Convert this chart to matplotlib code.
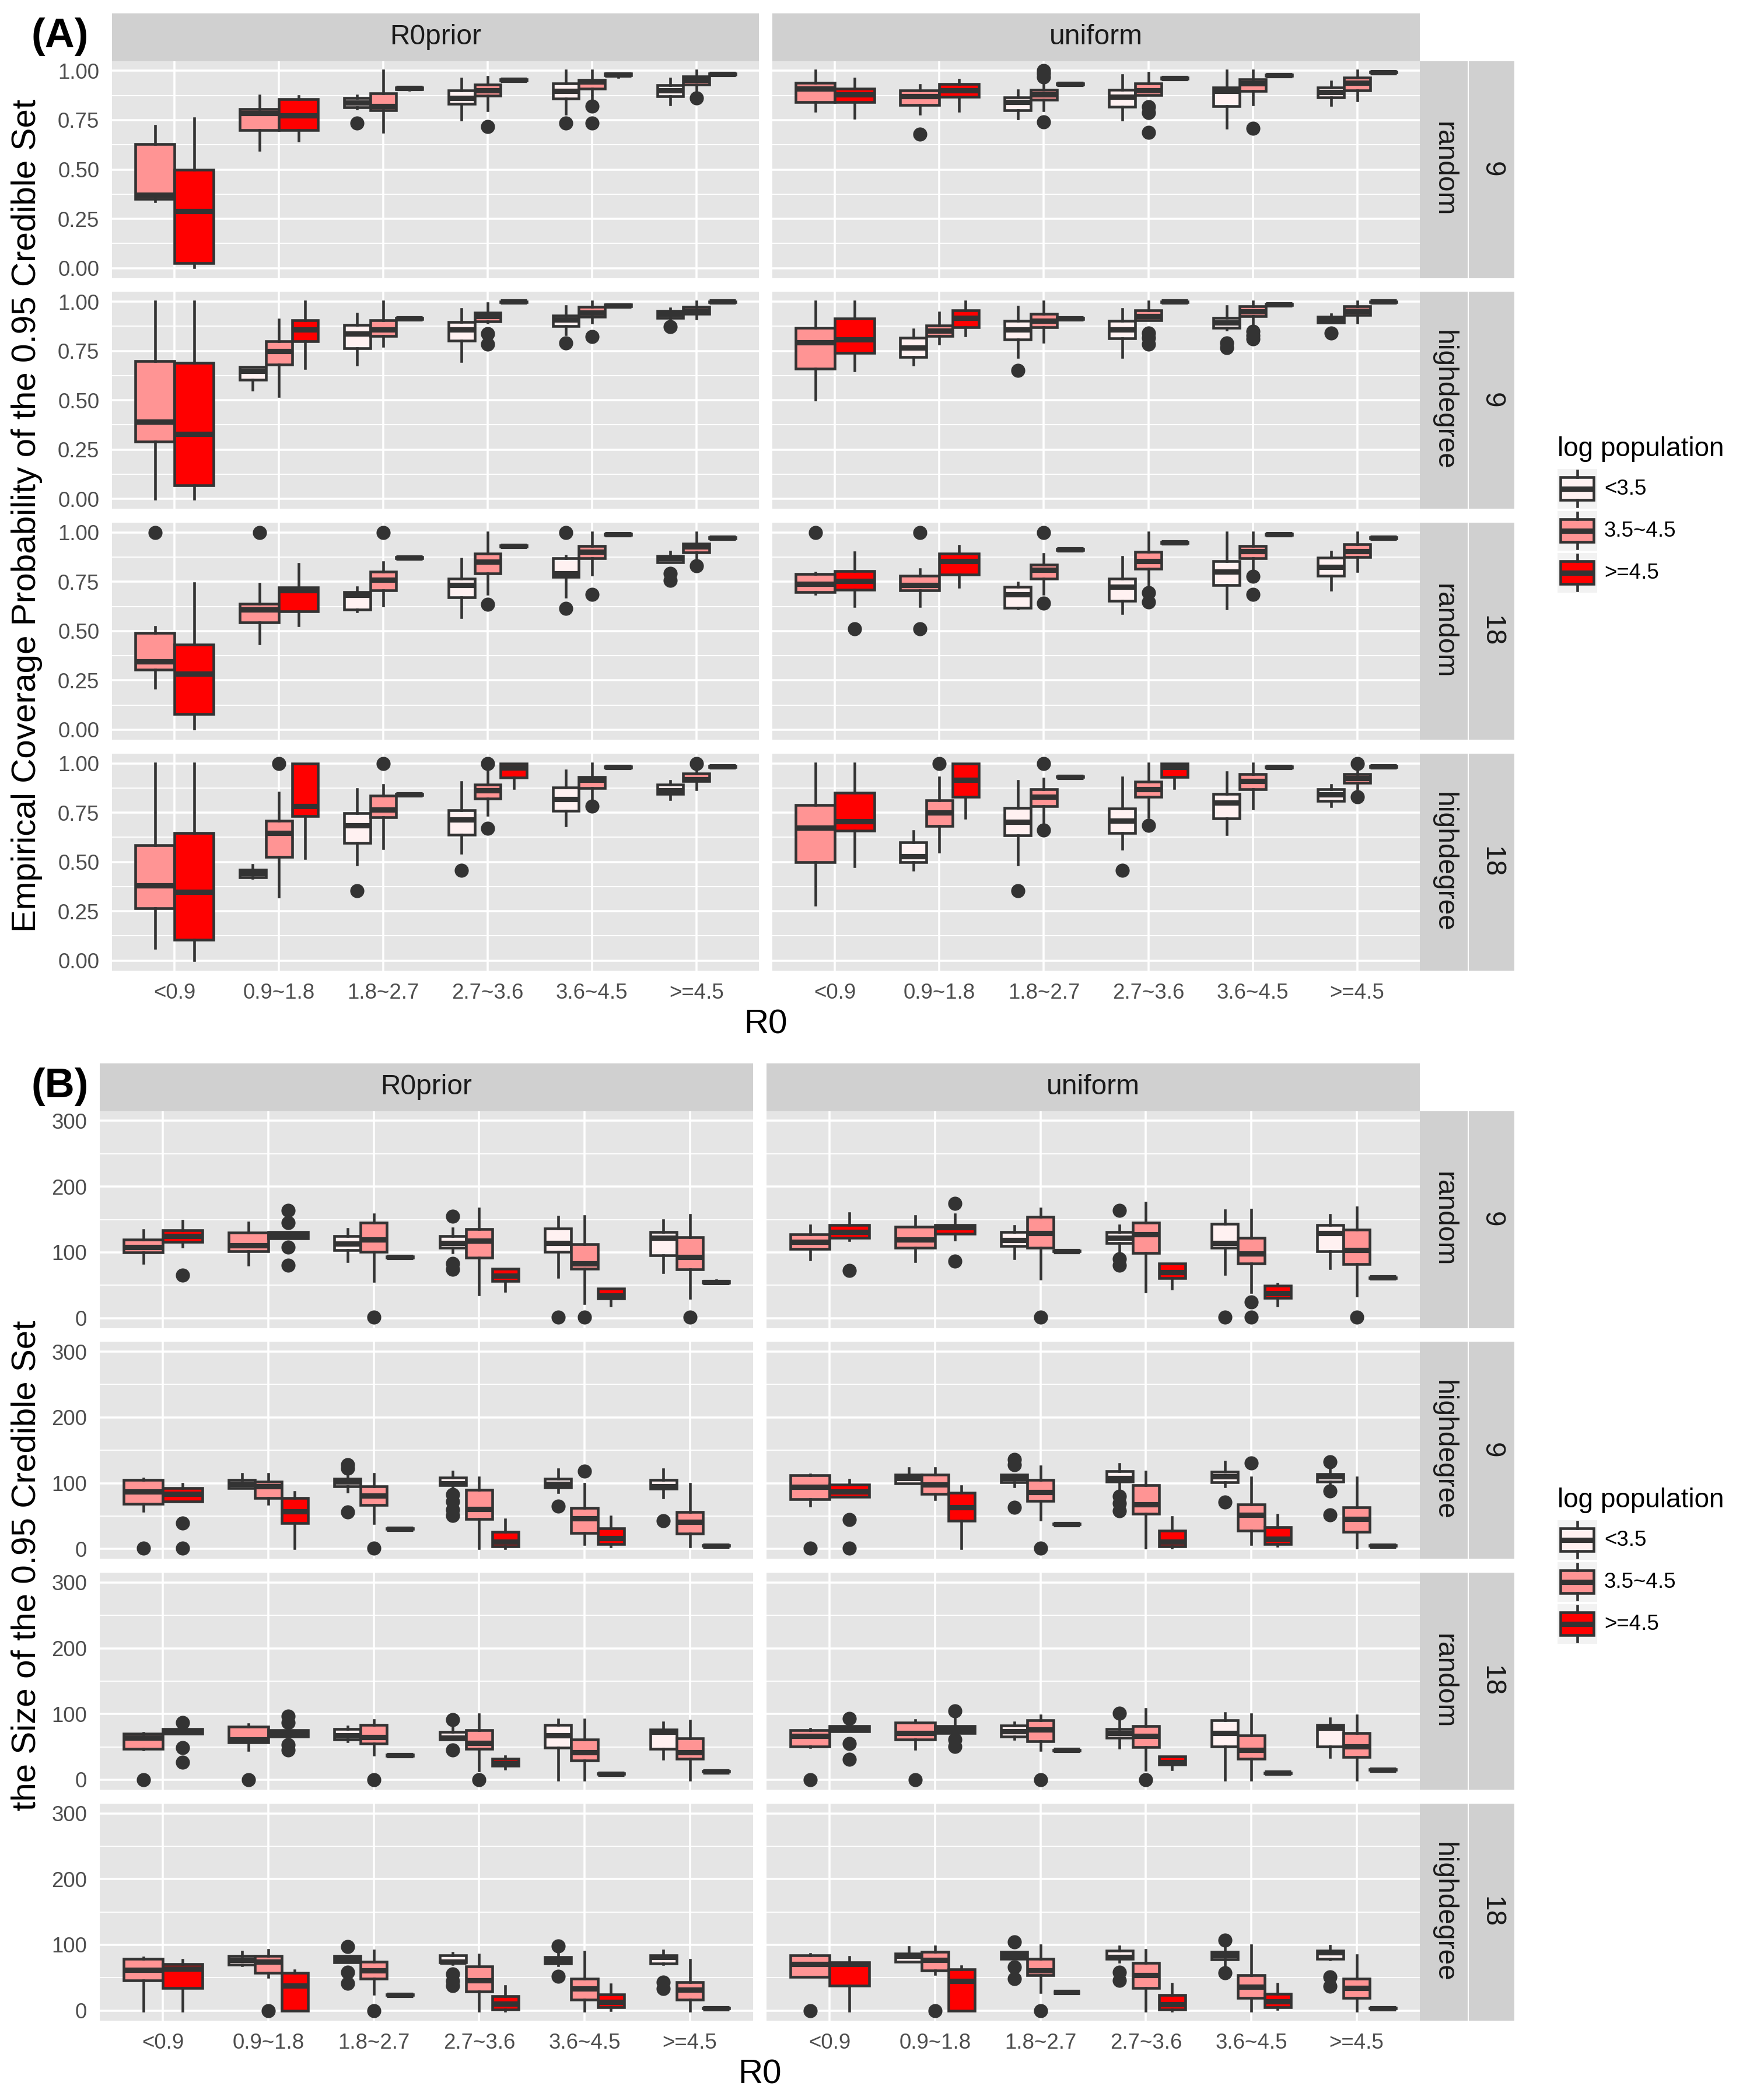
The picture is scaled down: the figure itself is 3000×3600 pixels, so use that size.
import matplotlib
matplotlib.use('Agg')
import matplotlib.pyplot as plt

plt.rcParams['font.family'] = ['Liberation Sans', 'DejaVu Sans']

# categories and groups
CATS = ['<0.9', '0.9~1.8', '1.8~2.7', '2.7~3.6', '3.6~4.5', '>=4.5']
GROUPS = ['<3.5', '3.5~4.5', '>=4.5']
GROUP_COLORS = ['#FFF1F1', '#FF9494', '#FF0000']
COLS = ['R0prior', 'uniform']
ROWS = [('random', '9'), ('highdegree', '9'), ('random', '18'), ('highdegree', '18')]

# each row: (category, group, whisker low, q1, median, q3, whisker high, outliers)
# (A) coverage probability
cov_r0prior_random_9 = [
    (0, 1, .34, .35, .37, .63, .72, []),
    (0, 2, .005, .024, .29, .50, .76, []),
    (1, 1, .60, .70, .785, .805, .875, []),
    (1, 2, .645, .70, .775, .855, .87, []),
    (2, 0, .81, .815, .838, .862, .875, [.736]),
    (2, 1, .69, .80, .82, .885, 1.0, []),
    (2, 2, .905, .908, .912, .916, .918, []),
    (3, 0, .753, .833, .861, .902, .959, []),
    (3, 1, .80, .873, .90, .929, .97, [.716]),
    (3, 2, .948, .95, .953, .956, .958, []),
    (4, 0, .783, .858, .898, .936, 1.0, [.736]),
    (4, 1, .86, .91, .944, .953, 1.0, [.82, .736]),
    (4, 2, .97, .977, .981, .985, .987, []),
    (5, 0, .831, .871, .90, .926, .961, []),
    (5, 1, .90, .929, .953, .973, 1.0, [.861]),
    (5, 2, .978, .98, .983, .986, .988, []),
]
cov_r0prior_highdegree_9 = [
    (0, 1, 0.0, .29, .39, .70, 1.0, []),
    (0, 2, 0.0, .068, .33, .69, 1.0, []),
    (1, 0, .554, .605, .647, .668, .668, []),
    (1, 1, .52, .681, .749, .80, .91, []),
    (1, 2, .664, .80, .859, .905, 1.0, []),
    (2, 0, .681, .763, .837, .881, .939, []),
    (2, 1, .775, .825, .859, .905, 1.0, []),
    (2, 2, .91, .912, .914, .917, .919, []),
    (3, 0, .698, .803, .859, .898, .961, []),
    (3, 1, .893, .90, .927, .944, .99, [.837, .783]),
    (3, 2, .995, .997, 1.0, 1.0, 1.0, []),
    (4, 0, .834, .876, .91, .929, .978, [.79]),
    (4, 1, .893, .922, .944, .973, 1.0, [.822]),
    (4, 2, .975, .978, .981, .985, .987, []),
    (5, 0, .91, .919, .939, .953, .966, [.873]),
    (5, 1, .915, .939, .953, .975, 1.0, []),
    (5, 2, .995, .997, 1.0, 1.0, 1.0, []),
]
cov_r0prior_random_18 = [
    (0, 1, .213, .306, .347, .491, .521, [1.0]),
    (0, 2, .005, .081, .283, .433, .741, []),
    (1, 1, .437, .545, .609, .64, .738, [1.0]),
    (1, 2, .53, .601, .707, .721, .839, []),
    (2, 0, .60, .609, .682, .697, .721, []),
    (2, 1, .631, .707, .761, .80, .848, [1.0]),
    (2, 2, .868, .87, .873, .876, .878, []),
    (3, 0, .572, .67, .733, .766, .865, []),
    (3, 1, .69, .792, .851, .893, 1.0, [.635]),
    (3, 2, .927, .929, .932, .935, .937, []),
    (4, 0, .673, .775, .792, .868, .882, [1.0, .614]),
    (4, 1, .787, .868, .902, .932, 1.0, [.685]),
    (4, 2, .987, .989, .992, .995, .997, []),
    (5, 0, .848, .848, .868, .882, .902, [.792, .758]),
    (5, 1, .86, .898, .927, .942, 1.0, [.831]),
    (5, 2, .968, .97, .973, .976, .978, []),
]
cov_r0prior_highdegree_18 = [
    (0, 1, .063, .266, .381, .585, 1.0, []),
    (0, 2, .003, .105, .347, .647, 1.0, []),
    (1, 0, .419, .422, .444, .461, .483, []),
    (1, 1, .325, .525, .647, .71, .851, [1.0]),
    (1, 2, .52, .732, .783, 1.0, 1.0, []),
    (2, 0, .486, .597, .686, .746, .868, [.354]),
    (2, 1, .571, .727, .766, .837, .89, [1.0]),
    (2, 2, .837, .84, .842, .845, .847, []),
    (3, 0, .546, .639, .715, .763, .905, [.456]),
    (3, 1, .737, .822, .863, .893, .969, [1.0, .669]),
    (3, 2, .873, .927, .978, 1.0, 1.0, []),
    (4, 0, .686, .758, .817, .876, .964, []),
    (4, 1, .805, .873, .915, .932, 1.0, [.783]),
    (4, 2, .976, .978, .981, .984, .986, []),
    (5, 0, .817, .846, .864, .893, .91, []),
    (5, 1, .868, .91, .919, .949, .98, [1.0]),
    (5, 2, .978, .98, .983, .986, .988, []),
]
cov_uniform_random_9 = [
    (0, 1, .797, .843, .91, .939, 1.0, []),
    (0, 2, .763, .841, .88, .91, .959, []),
    (1, 1, .783, .826, .87, .902, .926, [.679]),
    (1, 2, .797, .868, .902, .932, .953, []),
    (2, 0, .758, .80, .843, .865, .902, []),
    (2, 1, .80, .854, .88, .905, .935, [1.0, .985, .97, .741]),
    (2, 2, .928, .93, .932, .935, .937, []),
    (3, 0, .753, .817, .868, .905, .978, []),
    (3, 1, .876, .878, .902, .936, .99, [.817, .787, .687]),
    (3, 2, .958, .96, .963, .966, .968, []),
    (4, 0, .712, .822, .898, .915, 1.0, []),
    (4, 1, .831, .898, .936, .956, 1.0, [.707]),
    (4, 2, .973, .975, .978, .981, .983, []),
    (5, 0, .826, .865, .893, .915, .944, []),
    (5, 1, .851, .902, .939, .966, 1.0, []),
    (5, 2, .99, .991, .993, .995, .997, []),
]
cov_uniform_highdegree_9 = [
    (0, 1, .503, .659, .792, .868, 1.0, []),
    (0, 2, .651, .741, .808, .915, 1.0, []),
    (1, 0, .681, .72, .766, .817, .859, []),
    (1, 1, .786, .825, .851, .88, .944, []),
    (1, 2, .829, .871, .919, .956, 1.0, []),
    (2, 0, .719, .808, .859, .902, .973, [.651]),
    (2, 1, .797, .871, .902, .939, 1.0, []),
    (2, 2, .91, .912, .914, .917, .919, []),
    (3, 0, .719, .814, .859, .902, .961, []),
    (3, 1, .905, .905, .927, .956, 1.0, [.842, .817, .783]),
    (3, 2, .995, .997, 1.0, 1.0, 1.0, []),
    (4, 0, .859, .868, .893, .919, .978, [.79, .766]),
    (4, 1, .876, .927, .949, .978, 1.0, [.85, .83, .81]),
    (4, 2, .981, .983, .986, .989, .99, []),
    (5, 0, .893, .895, .91, .922, .936, [.842]),
    (5, 1, .893, .932, .953, .978, 1.0, []),
    (5, 2, .995, .997, 1.0, 1.0, 1.0, []),
]
cov_uniform_random_18 = [
    (0, 1, .69, .699, .738, .789, .795, [1.0]),
    (0, 2, .626, .711, .753, .804, .898, [.513]),
    (1, 1, .626, .707, .733, .78, .812, [1.0, .513]),
    (1, 2, .724, .787, .854, .893, .931, []),
    (2, 0, .614, .619, .685, .724, .745, []),
    (2, 1, .69, .766, .809, .838, .89, [1.0, .643]),
    (2, 2, .909, .911, .914, .917, .919, []),
    (3, 0, .592, .653, .724, .766, .876, []),
    (3, 1, .716, .817, .854, .902, 1.0, [.694, .648]),
    (3, 2, .944, .946, .949, .952, .954, []),
    (4, 0, .614, .733, .80, .854, 1.0, []),
    (4, 1, .787, .868, .905, .932, 1.0, [.778, .685]),
    (4, 2, .987, .989, .992, .995, .997, []),
    (5, 0, .711, .78, .826, .871, .902, []),
    (5, 1, .804, .876, .905, .941, 1.0, []),
    (5, 2, .968, .97, .973, .976, .978, []),
]
cov_uniform_highdegree_18 = [
    (0, 1, .283, .50, .673, .788, 1.0, []),
    (0, 2, .478, .659, .707, .851, 1.0, []),
    (1, 0, .461, .498, .529, .60, .656, []),
    (1, 1, .551, .681, .749, .812, .927, [1.0]),
    (1, 2, .724, .829, .915, 1.0, 1.0, []),
    (2, 0, .486, .636, .703, .775, .91, [.354]),
    (2, 1, .636, .783, .829, .868, .922, [1.0, .661]),
    (2, 2, .93, .931, .932, .934, .935, []),
    (3, 0, .568, .647, .71, .771, .927, [.456]),
    (3, 1, .727, .829, .868, .907, 1.0, [.685]),
    (3, 2, .873, .93, .981, 1.0, 1.0, []),
    (4, 0, .642, .72, .80, .846, .953, []),
    (4, 1, .771, .868, .91, .944, 1.0, []),
    (4, 2, .976, .978, .981, .984, .986, []),
    (5, 0, .783, .808, .842, .868, .89, []),
    (5, 1, .83, .902, .924, .944, .98, [1.0, .831]),
    (5, 2, .978, .98, .983, .986, .988, []),
]

# (B) size of the credible set
size_r0prior_random_9 = [
    (0, 1, 84, 99.5, 108, 119, 133.5, []),
    (0, 2, 109, 115.7, 124.4, 133.5, 147.7, [65]),
    (1, 1, 81, 101.5, 110.7, 130, 144.7, []),
    (1, 2, 120.8, 120.8, 126, 131, 131, [164, 144.7, 108, 80]),
    (2, 0, 86.8, 103, 113, 125, 135, []),
    (2, 1, 56, 100.5, 119.3, 144.7, 157.4, [1]),
    (2, 2, 91, 92, 93, 94, 95, []),
    (3, 0, 100, 107, 114, 125, 136, [155, 82.7, 74]),
    (3, 1, 36, 92, 118, 135.5, 166.5, []),
    (3, 2, 41, 56, 64, 75, 75, []),
    (4, 0, 62.4, 100.5, 114, 136, 153.8, [1]),
    (4, 1, 23, 75, 82.7, 112, 154.8, [1]),
    (4, 2, 19, 29.4, 34.5, 44.7, 44.7, []),
    (5, 0, 70, 95.4, 121.8, 131, 148.7, []),
    (5, 1, 31, 74, 93, 123.3, 156.3, [1]),
    (5, 2, 53, 54, 55, 56, 57, []),
]
size_r0prior_highdegree_9 = [
    (0, 1, 58, 68.6, 87.5, 105.3, 106.3, [1]),
    (0, 2, 72.2, 72.2, 83.4, 92.5, 99, [39, 1]),
    (1, 0, 92.5, 92.5, 99, 105.3, 113.9, []),
    (1, 1, 68.6, 77.3, 95, 102.7, 113.9, []),
    (1, 2, 1, 39, 57, 77.3, 86.4, []),
    (2, 0, 87.5, 95, 102.7, 106.3, 113.9, [128, 123, 56]),
    (2, 1, 39, 67, 81.4, 95, 113.9, [1]),
    (2, 2, 29.5, 30, 30.5, 31, 31.5, []),
    (3, 0, 94, 96.6, 100, 108.8, 117, [82.4, 72.2, 59.5, 50.8]),
    (3, 1, 1, 45.8, 61, 90, 108.8, []),
    (3, 2, 1, 3.6, 11.2, 26.4, 44.2, []),
    (4, 0, 86.4, 93.6, 99, 106.3, 120.5, [64.6]),
    (4, 1, 7, 23.9, 46.8, 62, 98.6, [118]),
    (4, 2, 3.6, 7, 16.3, 31.5, 49.3, []),
    (5, 0, 78.3, 91.5, 95, 105.3, 120.5, [42.7]),
    (5, 1, 3.6, 22.9, 40.7, 56, 98.6, []),
    (5, 2, 4, 4.5, 5, 5.5, 6, []),
]
size_r0prior_random_18 = [
    (0, 1, 46, 47, 63.8, 70.4, 71.4, [0]),
    (0, 2, 70, 70, 74, 77, 77, [86.7, 48.5, 27]),
    (1, 1, 45, 57, 61, 80.6, 84.2, [0]),
    (1, 2, 66, 66, 71.4, 75.5, 75.5, [97, 86.7, 53.6, 45]),
    (2, 0, 58.7, 61, 67.3, 77.6, 80.6, []),
    (2, 1, 38, 55, 65, 83, 90.8, [0]),
    (2, 2, 36, 36.5, 37.2, 38, 38.5, []),
    (3, 0, 61, 61, 63.8, 73, 80.6, [91.8, 45]),
    (3, 1, 14.3, 47, 56, 75.5, 99.5, [0]),
    (3, 2, 16.8, 21.4, 24.5, 32, 35.7, []),
    (4, 0, 0, 48.5, 67.3, 83, 91.8, []),
    (4, 1, 0, 29.6, 41.8, 61, 91.8, []),
    (4, 2, 8.5, 9, 9.2, 9.5, 10, []),
    (5, 0, 32, 47.4, 72.4, 76.5, 86.7, []),
    (5, 1, 0, 31.6, 41.8, 62.8, 89.3, []),
    (5, 2, 12, 12.5, 12.8, 13.2, 13.6, []),
]
size_r0prior_highdegree_18 = [
    (0, 1, 0, 46, 62.2, 79, 80.6, []),
    (0, 2, 0, 34.2, 63.8, 70.4, 76.5, []),
    (1, 0, 68.9, 70, 76.5, 82.7, 89.3, []),
    (1, 1, 51, 57, 74, 82.7, 91.8, [0]),
    (1, 2, 0, 0, 38.3, 57, 61.2, []),
    (2, 0, 73, 73, 79, 83.2, 83.2, [97, 58.7, 41.8]),
    (2, 1, 25.5, 48.5, 61.2, 74, 90.8, [0]),
    (2, 2, 23.5, 23.8, 24, 24.3, 24.5, []),
    (3, 0, 70.4, 73, 74, 84.2, 87.8, [56, 45, 38]),
    (3, 1, 0, 29, 46, 67.3, 85.2, []),
    (3, 2, 0, 1.5, 10.2, 22, 36.7, []),
    (4, 0, 68.9, 71.4, 76.5, 81.6, 86.7, [98, 52.5]),
    (4, 1, 0, 16.8, 33.2, 48.5, 89.3, []),
    (4, 2, 1, 5, 12.8, 24.5, 39.8, []),
    (5, 0, 70.4, 71.4, 81.6, 84.2, 90.8, [43.4, 33.2]),
    (5, 1, 0, 16.8, 32.1, 43.4, 76.5, []),
    (5, 2, 3, 3.3, 3.6, 4, 4.3, []),
]
size_uniform_random_9 = [
    (0, 1, 88.8, 105.6, 115.7, 127, 141, []),
    (0, 2, 118.3, 121.8, 131, 142, 159, [72.6]),
    (1, 1, 86.3, 106.6, 119.3, 138.6, 155.3, []),
    (1, 2, 119.3, 128.4, 137.6, 142, 157.9, [174, 86.8]),
    (2, 0, 91.4, 109.6, 118.3, 131, 140.1, []),
    (2, 1, 60, 107, 129.4, 153.8, 166.5, [1]),
    (2, 2, 101, 101.5, 102, 102.5, 103, []),
    (3, 0, 98, 114.2, 122.3, 131, 141, [164, 90, 80]),
    (3, 1, 40.6, 99, 127, 145.2, 175.6, []),
    (3, 2, 44.7, 61, 70, 82.7, 82.7, []),
    (4, 0, 67.5, 106.6, 114.2, 143.7, 164, [1]),
    (4, 1, 39.6, 82.7, 98, 121.8, 165, [24.4, 1]),
    (4, 2, 19.3, 31, 38, 49.7, 52, []),
    (5, 0, 76, 101.5, 129.4, 142, 156.3, []),
    (5, 1, 34.5, 81.7, 103, 134.5, 168, [1]),
    (5, 2, 60.5, 61, 61.4, 62, 62.5, []),
]
size_uniform_highdegree_9 = [
    (0, 1, 66, 75.8, 94, 111.9, 113, [1]),
    (0, 2, 78.8, 78.8, 87.5, 97.6, 105.3, [44.2, 1]),
    (1, 0, 100, 100, 107.8, 113, 123, []),
    (1, 1, 75.8, 83.4, 97.6, 113, 123, []),
    (1, 2, 1, 43.2, 63, 85, 95, []),
    (2, 0, 95, 101.7, 107.8, 113, 113, [135.8, 128, 63.6]),
    (2, 1, 44.2, 73.2, 86.4, 105.3, 125.6, [1]),
    (2, 2, 37, 37.3, 37.6, 38, 38.3, []),
    (3, 0, 91.5, 102.7, 107.8, 118, 129, [79.8, 69.7, 58]),
    (3, 1, 2, 53.4, 68, 96.6, 117, []),
    (3, 2, 2, 3.6, 11.2, 28, 47.8, []),
    (4, 0, 95, 101.7, 110.3, 117, 132.2, [71.2]),
    (4, 1, 7, 28, 51.9, 68, 108.8, [130.7]),
    (4, 2, 4.6, 7, 15.3, 33, 51.9, []),
    (5, 0, 95, 102.7, 110.3, 113.9, 123, [132.2, 88.5, 51.9]),
    (5, 1, 2, 26.4, 45.8, 63, 108.8, []),
    (5, 2, 4, 4.5, 5, 5.5, 6, []),
]
size_uniform_random_18 = [
    (0, 1, 50, 51, 66.3, 75.5, 77.6, [0]),
    (0, 2, 73.5, 73.5, 77.6, 81.6, 81.6, [93.4, 55, 30.6]),
    (1, 1, 47, 61, 71.4, 86.7, 90.8, [0]),
    (1, 2, 71.4, 71.4, 76.5, 81.6, 94.4, [104.6, 61, 51]),
    (2, 0, 62.2, 65.3, 74, 82.6, 86.7, []),
    (2, 1, 45, 58.7, 76.5, 90.8, 98, [0]),
    (2, 2, 44, 44.5, 45, 45.5, 46, []),
    (3, 0, 48.5, 63.8, 71.4, 77.6, 89.3, [101]),
    (3, 1, 15.3, 50, 66.3, 81.6, 107, [0]),
    (3, 2, 16.3, 23, 27, 35.7, 35.7, []),
    (4, 0, 0, 51, 71.4, 90.3, 101, []),
    (4, 1, 0, 32, 45, 67.3, 99.5, []),
    (4, 2, 9.5, 9.8, 10.2, 10.6, 11, []),
    (5, 0, 34.7, 51, 79, 83.2, 92.9, []),
    (5, 1, 0, 34.7, 51, 71.4, 98, []),
    (5, 2, 14.5, 15, 15.3, 15.7, 16, []),
]
size_uniform_highdegree_18 = [
    (0, 1, 51, 51, 70.4, 84.2, 85.7, [0]),
    (0, 2, 0, 38.3, 70.4, 73, 81.6, []),
    (1, 0, 74, 74, 82.7, 86.7, 96, []),
    (1, 1, 56, 61.2, 76.5, 89.3, 97, [0]),
    (1, 2, 0, 0, 45, 62.8, 67.3, []),
    (2, 0, 79, 79, 84.2, 89.3, 89.3, [104.6, 66.3, 48.5]),
    (2, 1, 28, 53.6, 61.2, 79, 99.5, [0]),
    (2, 2, 27.5, 27.8, 28, 28.3, 28.6, []),
    (3, 0, 74, 79, 81.6, 90.8, 97, [58.7, 46]),
    (3, 1, 0, 34.7, 53.6, 72.4, 91.8, []),
    (3, 2, 0, 1.5, 9.2, 24, 40.8, []),
    (4, 0, 68.9, 77.6, 84.2, 89.3, 99.5, [107, 57]),
    (4, 1, 0, 18.9, 35.7, 53.6, 99.5, []),
    (4, 2, 2.5, 5, 14.3, 25.5, 40.8, []),
    (5, 0, 77.6, 79, 88.3, 90.8, 98, [51, 36.7]),
    (5, 1, 0, 19.4, 34.7, 48.5, 84.2, []),
    (5, 2, 3, 3.3, 3.6, 4, 4.3, []),
]

coverage_panels = [
    [cov_r0prior_random_9, cov_uniform_random_9],
    [cov_r0prior_highdegree_9, cov_uniform_highdegree_9],
    [cov_r0prior_random_18, cov_uniform_random_18],
    [cov_r0prior_highdegree_18, cov_uniform_highdegree_18],
]
size_panels = [
    [size_r0prior_random_9, size_uniform_random_9],
    [size_r0prior_highdegree_9, size_uniform_highdegree_9],
    [size_r0prior_random_18, size_uniform_random_18],
    [size_r0prior_highdegree_18, size_uniform_highdegree_18],
]

# styling
W, H = 3000, 3600
PANEL_BG = '#E5E5E5'
STRIP_BG = '#D0D0D0'
EDGE = '#333333'
TICK_COLOR = '#4D4D4D'
BOX_LW = 1.1


def px_axes(fig, x0, y0, x1, y1):
    # pixel box (from top-left) -> figure axes
    return fig.add_axes([x0 / W, 1 - y1 / H, (x1 - x0) / W, (y1 - y0) / H])


def draw_box(ax, pos, width, color, lo, q1, med, q3, hi, fliers):
    stats = [dict(whislo=lo, q1=q1, med=med, q3=q3, whishi=hi, fliers=fliers)]
    ax.bxp(stats, positions=[pos], widths=[width], patch_artist=True,
           showcaps=False, manage_ticks=False,
           boxprops=dict(facecolor=color, edgecolor=EDGE, linewidth=BOX_LW),
           medianprops=dict(color=EDGE, linewidth=BOX_LW * 2, solid_capstyle='butt'),
           whiskerprops=dict(color=EDGE, linewidth=BOX_LW),
           flierprops=dict(marker='o', markersize=4.8, markerfacecolor=EDGE,
                           markeredgecolor=EDGE))


def draw_panel(ax, rows, ylim, major, minor):
    ax.set_facecolor(PANEL_BG)
    ax.set_xlim(0.4, 6.6)
    ax.set_ylim(*ylim)
    ax.set_xticks(range(1, 7))
    ax.set_yticks(major)
    ax.set_yticks(minor, minor=True)
    ax.grid(which='major', color='white', linewidth=0.85)
    ax.grid(which='minor', axis='y', color='white', linewidth=0.45)
    ax.set_axisbelow(True)
    for s in ax.spines.values():
        s.set_visible(False)
    ax.tick_params(which='both', length=0, pad=5.2, labelsize=8.8, colors=TICK_COLOR)
    ax.set_xticklabels([])
    ax.set_yticklabels([])
    # dodge boxes of the groups present in each category
    for cat in range(len(CATS)):
        present = sorted(r for r in rows if r[0] == cat)
        n = len(present)
        w = 0.75 / n
        for k, r in enumerate(present):
            pos = cat + 1 + (k - (n - 1) / 2) * w
            draw_box(ax, pos, w, GROUP_COLORS[r[1]], *r[2:7], r[7])


def strip(fig, x0, y0, x1, y1, label, rotation=0):
    ax = px_axes(fig, x0, y0, x1, y1)
    ax.set_facecolor(STRIP_BG)
    ax.set_xticks([])
    ax.set_yticks([])
    for s in ax.spines.values():
        s.set_visible(False)
    ax.text(0.5, 0.5, label, transform=ax.transAxes, ha='center', va='center',
            fontsize=11.5, color='#1A1A1A', rotation=rotation)


def legend(fig, x0, title_y, key_top):
    fig.text(x0 / W, 1 - title_y / H, 'log population', fontsize=11,
             ha='left', va='center', color='black')
    for i, (name, color) in enumerate(zip(GROUPS, GROUP_COLORS)):
        ky = key_top + i * 72
        ax = px_axes(fig, x0, ky, x0 + 67.5, ky + 67.5)
        ax.set_facecolor('#F2F2F2')
        ax.set_xlim(0, 1)
        ax.set_ylim(0, 1)
        ax.set_xticks([])
        ax.set_yticks([])
        for s in ax.spines.values():
            s.set_visible(False)
        draw_box(ax, 0.5, 0.845, color, 0.045, 0.21, 0.5, 0.79, 0.955, [])
        fig.text((x0 + 80) / W, 1 - (ky + 34) / H, name, fontsize=8.8,
                 ha='left', va='center', color='black')


def facet_block(fig, panels, top, col_x, ylim, major, minor, tick_fmt, ylabel, tag,
                legend_title_y):
    row_h = 372
    pitch = 395.7
    strip_h = 81.5
    # column strips
    for (x0, x1), name in zip(col_x, COLS):
        strip(fig, x0, top - strip_h, x1, top, name)
    for ri, (net, deg) in enumerate(ROWS):
        y0 = top + ri * pitch
        y1 = y0 + row_h
        for ci, (x0, x1) in enumerate(col_x):
            ax = px_axes(fig, x0, y0, x1, y1)
            draw_panel(ax, panels[ri][ci], ylim, major, minor)
            if ci == 0:
                ax.set_yticklabels([tick_fmt(v) for v in major])
            if ri == len(ROWS) - 1:
                ax.set_xticklabels(CATS)
        strip(fig, 2434, y0, 2516, y1, net, rotation=-90)
        strip(fig, 2518, y0, 2596, y1, deg, rotation=-90)
    bottom = top + 3 * pitch + row_h
    mid_x = (col_x[0][0] + col_x[1][1]) / 2
    fig.text(mid_x / W, 1 - (bottom + 93) / H, 'R0', fontsize=14, ha='center', va='center')
    fig.text(46 / W, 1 - ((top + bottom) / 2) / H, ylabel, fontsize=14,
             rotation=90, ha='center', va='center')
    fig.text(103 / W, 1 - (top - strip_h / 2 - 1) / H, tag, fontsize=17,
             fontweight='bold', ha='center', va='center')
    legend(fig, 2670, legend_title_y, legend_title_y + 34)


fig = plt.figure(figsize=(10, 12), dpi=300)
fig.patch.set_facecolor('white')

facet_block(fig, coverage_panels, 104.5, [(192, 1301), (1324, 2434)],
            (-0.05, 1.05), [0, 0.25, 0.5, 0.75, 1.0], [0.125, 0.375, 0.625, 0.875],
            lambda v: f'{v:.2f}',
            'Empirical Coverage Probability of the 0.95 Credible Set', '(A)', 770)

facet_block(fig, size_panels, 1904.5, [(171, 1291), (1314, 2434)],
            (-15, 315), [0, 100, 200, 300], [50, 150, 250],
            lambda v: f'{v:d}',
            'the Size of the 0.95 Credible Set', '(B)', 2572)

fig.savefig('out.png', dpi=300, facecolor='white')
